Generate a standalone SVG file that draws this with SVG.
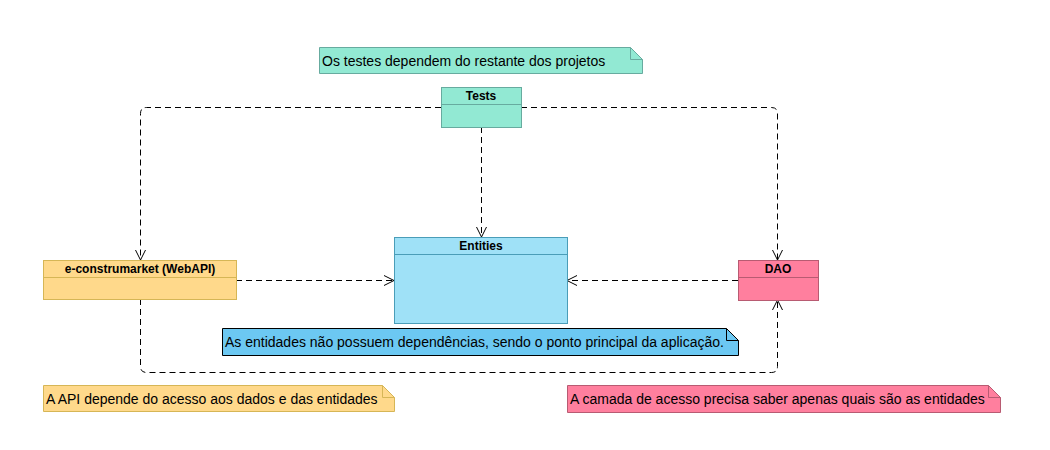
<svg xmlns="http://www.w3.org/2000/svg" width="1050" height="450" viewBox="0 0 1050 450">
<defs>
<marker id="open" viewBox="0 0 12 12" refX="11" refY="6" markerWidth="12" markerHeight="12" markerUnits="userSpaceOnUse" orient="auto">
<path d="M1,1 L11,6 L1,11" fill="none" stroke="#000" stroke-width="1"/>
</marker>
<style>
.t{font-family:"Liberation Sans",Arial,sans-serif;font-size:12px;font-weight:bold;fill:#000;text-anchor:middle}
.n{font-family:"Liberation Sans",Arial,sans-serif;font-size:14px;fill:#000}
.c{fill:none;stroke:#000;stroke-width:1;stroke-dasharray:6 4;marker-end:url(#open)}
.teal{fill:#92E9D3;stroke:#67AB9F}
.yel{fill:#FFD98B;stroke:#D6B656}
.blu{fill:#9FE1F7;stroke:#4A9DB8}
.pnk{fill:#FF7F9E;stroke:#B85B72}
.nblu{fill:#6CC8F2;stroke:#000}
</style>
</defs>
<rect width="1050" height="450" fill="#fff"/>
<g id="connectors">
<path class="c" d="M441,107.5 H146.5 Q140.5,107.5 140.5,113.5 V260"/>
<path class="c" d="M521,107.5 H771.5 Q777.5,107.5 777.5,113.5 V260"/>
<path class="c" d="M481.5,127 V237"/>
<path class="c" d="M236,280.5 H394"/>
<path class="c" d="M738,280.5 H567"/>
<path class="c" d="M140.5,299 V366.5 Q140.5,372.5 146.5,372.5 H771.5 Q777.5,372.5 777.5,366.5 V300"/>
</g>
<g id="note-tests">
<path class="teal" d="M319.5,47.5 H630.5 L642.5,59.5 V73.5 H319.5 Z"/>
<path d="M630.5,47.5 V59.5 H642.5" fill="none" stroke="#67AB9F"/>
<text class="n" x="322" y="66">Os testes dependem do restante dos projetos</text>
</g>
<g id="tests">
<rect class="teal" x="441.5" y="87.5" width="80" height="40"/>
<line x1="441.5" y1="104.5" x2="521.5" y2="104.5" stroke="#67AB9F"/>
<text class="t" x="481" y="100">Tests</text>
</g>
<g id="webapi">
<rect class="yel" x="43.5" y="260.5" width="193" height="39"/>
<line x1="43.5" y1="277.5" x2="236.5" y2="277.5" stroke="#D6B656"/>
<text class="t" x="140" y="273">e-construmarket (WebAPI)</text>
</g>
<g id="entities">
<rect class="blu" x="394.5" y="237.5" width="173" height="86"/>
<line x1="394.5" y1="254.5" x2="567.5" y2="254.5" stroke="#4A9DB8"/>
<text class="t" x="481" y="250">Entities</text>
</g>
<g id="dao">
<rect class="pnk" x="738.5" y="260.5" width="80" height="40"/>
<line x1="738.5" y1="277.5" x2="818.5" y2="277.5" stroke="#B85B72"/>
<text class="t" x="778" y="273">DAO</text>
</g>
<g id="note-entities">
<path class="nblu" d="M222.5,328.5 H726.5 L738.5,340.5 V355.5 H222.5 Z"/>
<path d="M726.5,328.5 V340.5 H738.5" fill="none" stroke="#000"/>
<text class="n" x="225" y="347">As entidades não possuem dependências, sendo o ponto principal da aplicação.</text>
</g>
<g id="note-api">
<path class="yel" d="M43.5,385.5 H382.5 L394.5,397.5 V411.5 H43.5 Z"/>
<path d="M382.5,385.5 V397.5 H394.5" fill="none" stroke="#D6B656"/>
<text class="n" x="46" y="404">A API depende do acesso aos dados e das entidades</text>
</g>
<g id="note-dao">
<path class="pnk" d="M567.5,385.5 H988.5 L1000.5,397.5 V412.5 H567.5 Z"/>
<path d="M988.5,385.5 V397.5 H1000.5" fill="none" stroke="#B85B72"/>
<text class="n" x="570" y="404">A camada de acesso precisa saber apenas quais são as entidades</text>
</g>
</svg>
